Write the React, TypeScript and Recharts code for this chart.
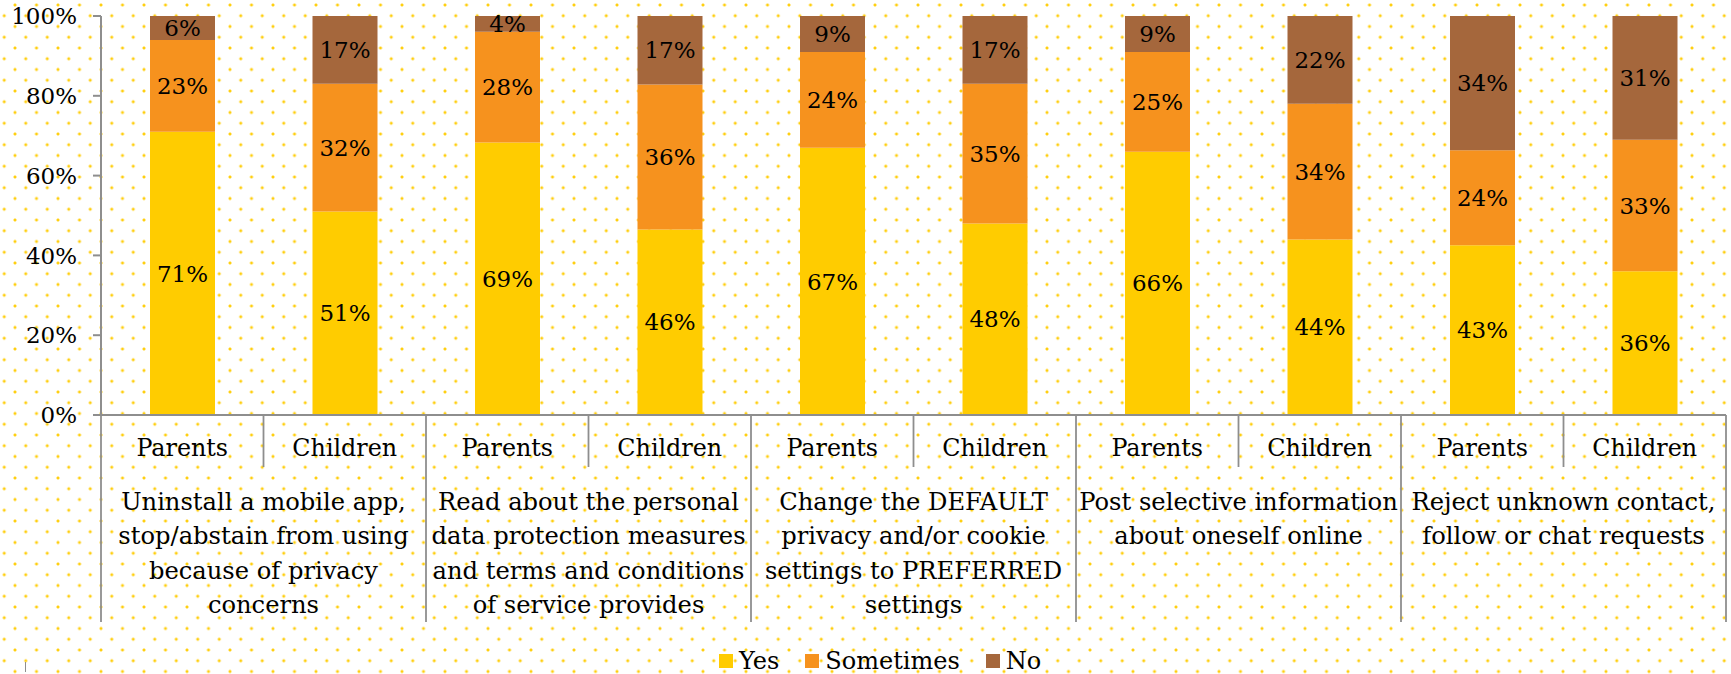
import { Bar, BarChart, LabelList, Legend, XAxis, YAxis } from "recharts";

const FONT = "'DejaVu Serif', serif";
const AXIS = "#8e8e8e";

const members = ["Parents", "Children", "Parents", "Children", "Parents", "Children", "Parents", "Children", "Parents", "Children"];
const actions = [
  ["Uninstall a mobile app,", "stop/abstain from using", "because of privacy", "concerns"],
  ["Read about the personal", "data protection measures", "and terms and conditions", "of service provides"],
  ["Change the DEFAULT", "privacy and/or cookie", "settings to PREFERRED", "settings"],
  ["Post selective information", "about oneself online"],
  ["Reject unknown contact,", "follow or chat requests"],
];
const yes = [71, 51, 69, 46, 67, 48, 66, 44, 43, 36];
const sometimes = [23, 32, 28, 36, 24, 35, 25, 34, 24, 33];
const no = [6, 17, 4, 17, 9, 17, 9, 22, 34, 31];
const yTicks = [0, 0.2, 0.4, 0.6, 0.8, 1];

const series = [
  { key: "yes", name: "Yes", color: "#FFCC00" },
  { key: "sometimes", name: "Sometimes", color: "#F6921E" },
  { key: "no", name: "No", color: "#A5673C" },
];

const data = members.map((who, i) => ({
  who,
  group: Math.floor(i / 2),
  yes: yes[i],
  sometimes: sometimes[i],
  no: no[i],
}));

// Parents/Children row plus the separator lines of the two-level axis
function MemberTick(props: any) {
  const { x, y, payload, index } = props;
  const half = payload.offset ?? 81.25;
  const left = x - half;
  return (
    <g>
      <text x={x} y={y + 33} textAnchor="middle" dominantBaseline="central" fontFamily={FONT} fontSize={23.8} fill="#000">
        {payload.value}
      </text>
      <line x1={left} x2={left} y1={y} y2={index % 2 === 0 ? y + 207 : y + 52} stroke={AXIS} strokeWidth={1.8} />
      {index === members.length - 1 && (
        <line x1={x + half} x2={x + half} y1={y} y2={y + 207} stroke={AXIS} strokeWidth={1.8} />
      )}
    </g>
  );
}

function ActionTick(props: any) {
  const { x, y, payload, index } = props;
  if (index % 2 !== 0) return <g />;
  const cx = x + (payload.offset ?? 81.25);
  const lines = actions[payload.value] ?? [];
  return (
    <text textAnchor="middle" fontFamily={FONT} fontSize={24.2} fill="#000">
      {lines.map((t, i) => (
        <tspan key={i} x={cx} y={y + 35 + i * 34.3} dominantBaseline="central">
          {t}
        </tspan>
      ))}
    </text>
  );
}

function LegendBox() {
  return (
    <div style={{ display: "flex", alignItems: "center", fontFamily: FONT, fontSize: 24, color: "#000" }}>
      {series.map((s, i) => (
        <div key={s.key} style={{ display: "flex", alignItems: "center", marginRight: i < series.length - 1 ? 26 : 0 }}>
          <span style={{ width: 14, height: 14, background: s.color, marginRight: 6, display: "inline-block" }} />
          <span>{s.name}</span>
        </div>
      ))}
    </div>
  );
}

const dots =
  "radial-gradient(circle, rgba(255,204,0,0.95) 0.9px, rgba(255,214,60,0.45) 1.6px, transparent 2.1px)";

export default function App() {
  return (
    <div
      style={{
        position: "absolute",
        left: 0,
        top: 0,
        width: 1731,
        height: 674,
        backgroundColor: "#fff",
        backgroundImage: `${dots}, ${dots}`,
        backgroundSize: "21.5px 21.5px, 21.5px 21.5px",
        backgroundPosition: "4.25px -5.75px, -6.5px 5px",
      }}
    >
      <BarChart
        width={1731}
        height={674}
        data={data}
        stackOffset="expand"
        barSize={65}
        margin={{ top: 16, right: 5, left: 0, bottom: 52 }}
      >
        <XAxis
          dataKey="who"
          interval={0}
          height={52}
          tickSize={0}
          tickMargin={0}
          tickLine={false}
          axisLine={{ stroke: AXIS, strokeWidth: 2 }}
          tick={<MemberTick />}
        />
        <XAxis
          xAxisId="action"
          dataKey="group"
          interval={0}
          height={155}
          tickSize={0}
          tickMargin={0}
          tickLine={false}
          axisLine={false}
          tick={<ActionTick />}
        />
        <YAxis
          width={101}
          domain={[0, 1]}
          ticks={yTicks}
          tickFormatter={(v: number) => `${Math.round(v * 100)}%`}
          tickSize={8}
          tickMargin={16}
          tickLine={{ stroke: AXIS, strokeWidth: 2 }}
          axisLine={{ stroke: AXIS, strokeWidth: 2 }}
          tick={{ fill: "#000", fontFamily: FONT, fontSize: 23 }}
        />
        <Legend
          layout="horizontal"
          verticalAlign="middle"
          align="center"
          content={<LegendBox />}
          wrapperStyle={{ left: 719, top: 647, width: "auto" }}
        />
        {series.map((s) => (
          <Bar key={s.key} dataKey={s.key} name={s.name} stackId="a" fill={s.color} isAnimationActive={false}>
            <LabelList
              dataKey={s.key}
              position="center"
              formatter={(v: any) => `${v}%`}
              fill="#000"
              fontFamily={FONT}
              fontSize={23}
            />
          </Bar>
        ))}
      </BarChart>
      <div style={{ position: "absolute", left: 25, top: 662, width: 1, height: 10, background: AXIS }} />
    </div>
  );
}
